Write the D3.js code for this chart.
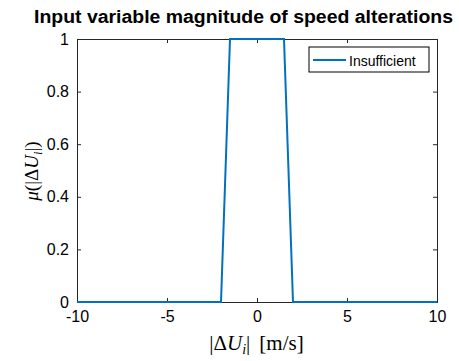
<!DOCTYPE html>
<html>
<head>
<meta charset="utf-8">
<script src="https://cdn.jsdelivr.net/npm/d3@7"></script>
<style>
  body { margin: 0; background: #fff; }
  svg text { font-family: "Liberation Sans", Arial, sans-serif; }
  .tex { font-family: "Liberation Serif", "DejaVu Serif", serif; }
</style>
</head>
<body>
<svg id="chart" width="459" height="361"></svg>
<script>
// membership function "Insufficient"
const xVals = [-10, -2, -1.5, 1.5, 2, 10];
const muVals = [0, 0, 1, 1, 0, 0];
const xTicks = [-10, -5, 0, 5, 10];
const yTicks = [0, 0.2, 0.4, 0.6, 0.8, 1];
const seriesName = 'Insufficient';
const titleText = 'Input variable magnitude of speed alterations';

const margin = { top: 39, right: 22, bottom: 59, left: 77 };
const width = 459 - margin.left - margin.right;
const height = 361 - margin.top - margin.bottom;

const svg = d3.select('#chart');
const g = svg.append('g').attr('transform', `translate(${margin.left},${margin.top})`);

const x = d3.scaleLinear().domain([-10, 10]).range([0, width]);
const y = d3.scaleLinear().domain([0, 1]).range([height, 0]);

const tickLen = 4;
const fmt = d => String(d); // plain hyphen, like MATLAB

// axes (MATLAB style: ticks inward, box on)
const xAxis = g.append('g').attr('transform', `translate(0,${height})`)
  .call(d3.axisBottom(x).tickValues(xTicks).tickSize(-tickLen).tickPadding(9).tickFormat(fmt));
const xTop = g.append('g')
  .call(d3.axisTop(x).tickValues(xTicks).tickSize(-tickLen).tickFormat(''));
const yAxis = g.append('g')
  .call(d3.axisLeft(y).tickValues(yTicks).tickSize(-tickLen).tickPadding(8).tickFormat(fmt));
const yRight = g.append('g').attr('transform', `translate(${width},0)`)
  .call(d3.axisRight(y).tickValues(yTicks).tickSize(-tickLen).tickFormat(''));

[xAxis, xTop, yAxis, yRight].forEach(a => {
  a.select('.domain').attr('stroke', '#262626');
  a.selectAll('.tick line').attr('stroke', '#262626');
  a.selectAll('.tick text').attr('fill', '#000').style('font-size', '16px')
    .style('font-family', '"Liberation Sans", Arial, sans-serif');
});

// line
const line = d3.line().x((d, i) => x(xVals[i])).y(d => y(d));
g.append('path').datum(muVals)
  .attr('fill', 'none')
  .attr('stroke', '#0072BD')
  .attr('stroke-width', 2)
  .attr('d', line);

// title
svg.append('text')
  .attr('x', 243.5)
  .attr('y', 23)
  .attr('text-anchor', 'middle')
  .attr('textLength', 419)
  .attr('lengthAdjust', 'spacingAndGlyphs')
  .style('font-weight', 'bold')
  .style('font-size', '18px')
  .text(titleText);

// x label: |ΔU_i| [m/s]
const xl = svg.append('text').attr('class', 'tex')
  .attr('x', 256.5)
  .attr('y', 350)
  .attr('text-anchor', 'middle')
  .style('font-size', '21px');
xl.append('tspan').text('|Δ');
xl.append('tspan').style('font-style', 'italic').text('U');
xl.append('tspan').style('font-style', 'italic').style('font-size', '14px').attr('dy', 4).text('i');
xl.append('tspan').attr('dy', -4).text('|');
xl.append('tspan').attr('dx', 9).text('[m/s]');

// y label: μ(|ΔU_i|)
const yl = svg.append('text').attr('class', 'tex')
  .attr('transform', `translate(38,171) rotate(-90)`)
  .attr('text-anchor', 'middle')
  .style('font-size', '19px');
yl.append('tspan').style('font-style', 'italic').text('μ');
yl.append('tspan').text('(|Δ');
yl.append('tspan').style('font-style', 'italic').text('U');
yl.append('tspan').style('font-style', 'italic').style('font-size', '13px').attr('dy', 4).text('i');
yl.append('tspan').attr('dy', -4).text('|)');

// legend
const lg = svg.append('g').attr('transform', 'translate(309,47)');
lg.append('rect').attr('width', 120).attr('height', 25)
  .attr('fill', '#fff').attr('stroke', '#000').attr('stroke-width', 1);
lg.append('line').attr('x1', 4).attr('x2', 37).attr('y1', 13).attr('y2', 13)
  .attr('stroke', '#0072BD').attr('stroke-width', 2);
lg.append('text').attr('x', 40).attr('y', 18.5).style('font-size', '14px').text(seriesName);
</script>
</body>
</html>
